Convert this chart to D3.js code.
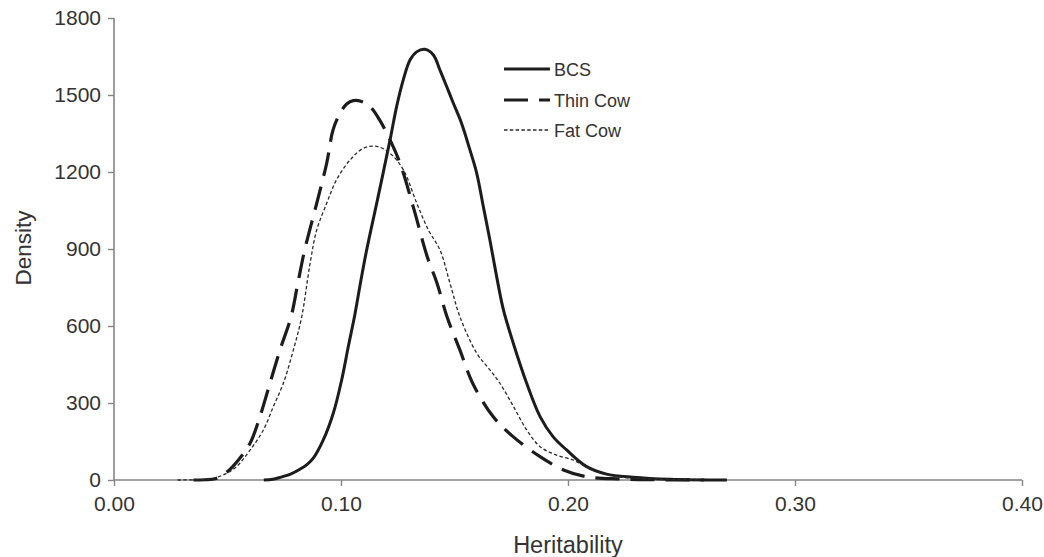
<!DOCTYPE html>
<html>
<head>
<meta charset="utf-8">
<script src="https://cdn.jsdelivr.net/npm/d3@7/dist/d3.min.js"></script>
<style>
  html, body { margin: 0; padding: 0; background: #fff; }
  svg { display: block; font-family: "Liberation Sans", Arial, sans-serif; }
</style>
</head>
<body>
<svg id="chart" width="1044" height="557"></svg>
<script>
// ---- data (heritability, density) ----
const seriesNames = ["BCS", "Thin Cow", "Fat Cow"];

const bcsValues = [
  [0.066,0],[0.070,3],[0.0731,10],[0.0780,24],[0.0819,42],[0.0850,60],[0.0878,85],[0.0922,156],[0.0966,260],
  [0.1003,390],[0.1032,519],[0.1062,649],[0.1088,779],[0.1113,896],[0.1165,1110],
  [0.1216,1325],[0.1245,1455],[0.1274,1558],[0.1304,1636],[0.1333,1668],[0.137,1678],
  [0.1407,1656],[0.1436,1597],[0.1466,1532],[0.1495,1468],[0.1531,1390],[0.1568,1286],
  [0.1598,1195],[0.1627,1065],[0.1656,935],[0.1683,805],[0.1715,665],[0.1759,533],
  [0.1818,377],[0.1877,247],[0.1934,169],[0.1994,117],[0.2082,52],[0.217,23],
  [0.2286,11],[0.245,3],[0.27,0]
];

const thinCowValues = [
  [0.035,0],[0.040,1],[0.045,6],[0.0496,30],[0.055,80],[0.060,144],[0.0643,247],
  [0.0687,377],[0.0731,506],[0.0780,636],[0.081,767],[0.084,896],[0.0893,1078],
  [0.0937,1234],[0.0965,1364],[0.0996,1429],[0.1025,1465],[0.1054,1478],[0.109,1475],
  [0.1128,1455],[0.117,1403],[0.1216,1325],[0.126,1234],[0.1318,1065],[0.138,870],
  [0.1423,767],[0.1467,636],[0.1524,506],[0.158,377],[0.167,247],[0.1758,169],
  [0.1877,91],[0.198,39],[0.208,13],[0.223,4],[0.24,1],[0.26,0]
];

const fatCowValues = [
  [0.028,0],[0.036,1],[0.043,5],[0.0496,26],[0.054,52],[0.060,117],[0.0658,195],
  [0.0702,286],[0.0746,377],[0.079,506],[0.0827,636],[0.0863,840],[0.0893,974],
  [0.0937,1078],[0.098,1169],[0.104,1247],[0.1098,1292],[0.1157,1300],[0.1216,1273],
  [0.1275,1208],[0.1334,1078],[0.1385,974],[0.1436,896],[0.148,767],[0.1524,636],
  [0.1598,494],[0.1656,429],[0.170,377],[0.176,286],[0.1818,195],[0.1877,130],
  [0.195,97],[0.2023,78],[0.2066,58],[0.212,35],[0.22,15],[0.235,5],[0.258,0]
];

const xTicks = [0, 0.1, 0.2, 0.3, 0.4];
const yTicks = [0, 300, 600, 900, 1200, 1500, 1800];
const xLabel = "Heritability";
const yLabel = "Density";

// ---- layout ----
const svg = d3.select("#chart");
const margin = { left: 114, top: 18, right: 22, bottom: 77 };
const W = 1044, H = 557;
const x = d3.scaleLinear().domain([0, 0.4]).range([margin.left, W - margin.right]);
const y = d3.scaleLinear().domain([0, 1800]).range([H - margin.bottom, margin.top]);

const axisColor = "#858585";
const textColor = "#333";

// axes
const gx = svg.append("g")
  .attr("transform", `translate(0,${y(0)})`)
  .call(d3.axisBottom(x).tickValues(xTicks).tickFormat(d3.format(".2f")).tickSize(6).tickPadding(10));
const gy = svg.append("g")
  .attr("transform", `translate(${x(0)},0)`)
  .call(d3.axisLeft(y).tickValues(yTicks).tickFormat(d3.format("d")).tickSize(6).tickPadding(7));

[gx, gy].forEach(g => {
  g.select(".domain").attr("stroke", axisColor).attr("stroke-width", 1.6);
  g.selectAll(".tick line").attr("stroke", axisColor).attr("stroke-width", 1.4);
  g.selectAll(".tick text").attr("fill", textColor)
    .style("font-size", "21px").style("font-family", '"Liberation Sans", Arial, sans-serif');
});
gx.select(".domain").attr("d", `M${x(0)},0H${x(0.4)}`);
gy.select(".domain").attr("d", `M0,${y(1800)}V${y(0)}`);

// axis titles
svg.append("text")
  .attr("x", (x(0) + x(0.4)) / 2).attr("y", 553)
  .attr("text-anchor", "middle").attr("fill", textColor)
  .style("font-size", "23.5px").text(xLabel);
svg.append("text")
  .attr("transform", `translate(31,${248}) rotate(-90)`)
  .attr("text-anchor", "middle").attr("fill", textColor)
  .style("font-size", "22.5px").text(yLabel);

// series
const styles = [
  { color: "#1c1c1c", width: 3, dash: null },
  { color: "#1c1c1c", width: 3.2, dash: "24,11" },
  { color: "#2a2a2a", width: 1.3, dash: "3.5,2.3" }
];
const allValues = [bcsValues, thinCowValues, fatCowValues];

const line = d3.line()
  .x(d => x(d[0])).y(d => Math.min(y(d[1]), y(0)))
  .curve(d3.curveCatmullRom.alpha(0.5));

const plot = svg.append("g");
allValues.forEach((vals, i) => {
  plot.append("path")
    .datum(vals)
    .attr("d", line)
    .attr("fill", "none")
    .attr("stroke", styles[i].color)
    .attr("stroke-width", styles[i].width)
    .attr("stroke-dasharray", styles[i].dash)
    .attr("stroke-linejoin", "round");
});

// legend
const legend = svg.append("g");
const legX0 = 504, legX1 = 550, legY = [69, 100, 130];
seriesNames.forEach((name, i) => {
  legend.append("line")
    .attr("x1", legX0).attr("x2", legX1)
    .attr("y1", legY[i]).attr("y2", legY[i])
    .attr("stroke", styles[i].color)
    .attr("stroke-width", styles[i].width)
    .attr("stroke-dasharray", styles[i].dash);
  legend.append("text")
    .attr("x", legX1 + 4).attr("y", legY[i] + 6.5)
    .attr("fill", textColor)
    .style("font-size", "18px")
    .text(name);
});
</script>
</body>
</html>
